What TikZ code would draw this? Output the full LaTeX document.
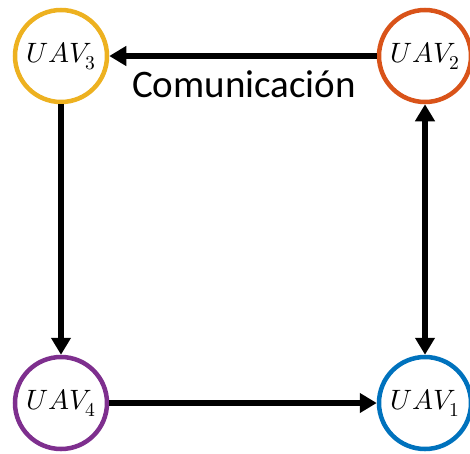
\documentclass[tikz,border=0pt]{standalone}
\usepackage{fontspec}
\usepackage{unicode-math}
\setmathfont{Latin Modern Math}
\newfontfamily\labfont{Carlito}
\usetikzlibrary{arrows.meta}
\definecolor{cyel}{RGB}{237,177,32}
\definecolor{cora}{RGB}{217,83,25}
\definecolor{cpur}{RGB}{126,47,142}
\definecolor{cblu}{RGB}{0,114,189}
\begin{document}
\begin{tikzpicture}[x=1pt,y=-1pt,
  uav/.style={circle,draw,line width=4.5pt,minimum size=92pt,inner sep=0pt,fill=white,
    font=\fontsize{28}{30}\selectfont},
  conn/.style={line width=6pt,-{Triangle[length=17pt,width=19pt]}},
  conn2/.style={line width=6pt,{Triangle[length=17pt,width=19pt]}-{Triangle[length=17pt,width=19pt]}}]
\useasboundingbox (0,0) rectangle (470,453);
\node[uav,draw=cyel] (u3) at (61,56) {$UAV_3$};
\node[uav,draw=cora] (u2) at (425,56) {$UAV_2$};
\node[uav,draw=cpur] (u4) at (61,403) {$UAV_4$};
\node[uav,draw=cblu] (u1) at (425,403) {$UAV_1$};
\draw[conn] (u2) -- (u3);
\draw[conn] (u3) -- (u4);
\draw[conn] (u4) -- (u1);
\draw[conn2] (u2) -- (u1);
\node[font=\labfont\fontsize{39}{44}\selectfont,anchor=base,inner sep=0pt] (lab) at (244,97) {Comunicación};
\end{tikzpicture}
\end{document}
